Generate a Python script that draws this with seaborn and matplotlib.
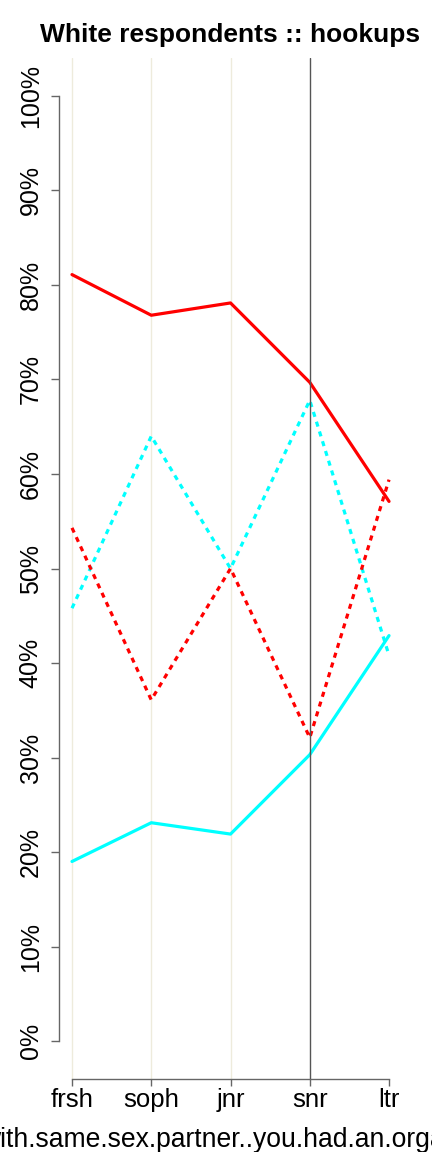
import numpy as np
import pandas as pd
import matplotlib
matplotlib.use("Agg")
import matplotlib.pyplot as plt
import seaborn as sns

# ---- data ----
categories = ["frsh", "soph", "jnr", "snr", "ltr"]
red_solid = [81.1, 76.8, 78.1, 69.7, 57.1]
red_dotted = [54.3, 36.1, 50.0, 32.1, 59.4]
cyan_dotted = [45.8, 64.0, 50.0, 67.8, 40.8]
cyan_solid = [19.0, 23.1, 21.9, 30.3, 42.9]
y_ticks = [0, 10, 20, 30, 40, 50, 60, 70, 80, 90, 100]
y_tick_labels = [f"{v}%" for v in y_ticks]
title = "White respondents :: hookups"
xlabel = "with.same.sex.partner..you.had.an.orgasm"

series = {
    "red_solid": red_solid,
    "red_dotted": red_dotted,
    "cyan_solid": cyan_solid,
    "cyan_dotted": cyan_dotted,
}
rows = []
for name, vals in series.items():
    for i, (c, v) in enumerate(zip(categories, vals)):
        rows.append({"pos": i, "cat": c, "value": v, "series": name})
df = pd.DataFrame(rows)

sns.set_style("white")
plt.rcParams["font.family"] = ["Liberation Sans", "DejaVu Sans"]
plt.rcParams["text.color"] = "black"
plt.rcParams["axes.labelcolor"] = "black"
plt.rcParams["xtick.color"] = "black"
plt.rcParams["ytick.color"] = "black"

fig = plt.figure(figsize=(4.32, 11.52), dpi=100)
ax = fig.add_axes([0.1373, 0.0635, 0.7926, 0.886])

# reference vertical lines
for i, c in enumerate(categories[:3]):
    ax.axvline(i, color="#EEEBDC", lw=1.0, zorder=0)
ax.axvline(categories.index("snr"), color="#555555", lw=1.0, zorder=5)

palette = {"red_solid": "#FF0000", "red_dotted": "#FF0000",
           "cyan_solid": "#00FFFF", "cyan_dotted": "#00FFFF"}
dashes = {"red_solid": "", "red_dotted": (1.6, 1.6),
          "cyan_solid": "", "cyan_dotted": (1.6, 1.6)}
sns.lineplot(data=df, x="pos", y="value", hue="series", style="series",
             palette=palette, dashes=dashes, lw=2.3, legend=False, ax=ax,
             hue_order=["cyan_solid", "cyan_dotted", "red_solid", "red_dotted"])

ax.set_xlim(-0.16, 4.16)
ax.set_ylim(-4, 104)
ax.set_xticks(range(len(categories)))
ax.set_xticklabels(categories)
ax.set_yticks(y_ticks)
ax.set_yticklabels(y_tick_labels, rotation=90, va="center")

for s in ["top", "right"]:
    ax.spines[s].set_visible(False)
ax.spines["left"].set_bounds(0, 100)
ax.spines["bottom"].set_bounds(0, 4)
for s in ["left", "bottom"]:
    ax.spines[s].set_color("#666666")
    ax.spines[s].set_linewidth(1.0)

ax.tick_params(axis="y", length=6, width=1, color="#666666", pad=6,
               labelsize=18, labelcolor="black", left=True)
ax.tick_params(axis="x", length=5, width=1, color="#666666", pad=1.5,
               labelsize=18.5, labelcolor="black", bottom=True)
ax.set_ylabel("")
ax.set_xlabel(xlabel, fontsize=19.1, labelpad=11, color="black")
ax.set_title(title, fontsize=19, fontweight="bold", pad=12, color="black")
ax.grid(False)

fig.savefig("out.png", dpi=100)
